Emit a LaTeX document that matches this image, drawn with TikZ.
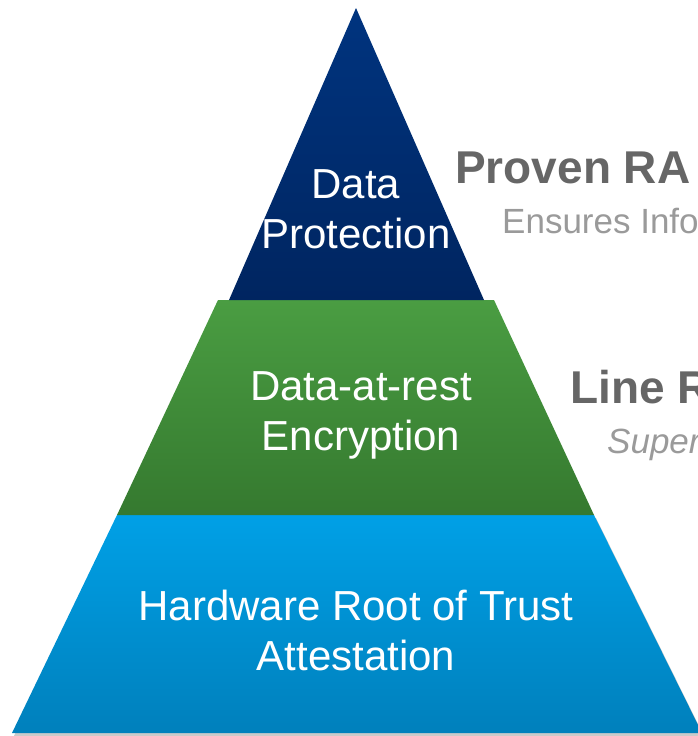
\documentclass[tikz,border=0pt]{standalone}
\usepackage{fontspec}
\setmainfont{Liberation Sans}
\definecolor{navyTop}{HTML}{00347F}
\definecolor{navyBot}{HTML}{002560}
\definecolor{greenTop}{HTML}{4A9D42}
\definecolor{greenBot}{HTML}{35792F}
\definecolor{blueTop}{HTML}{00A0E6}
\definecolor{blueBot}{HTML}{0080BC}
\definecolor{headGray}{HTML}{666666}
\definecolor{subGray}{HTML}{9A9A9A}

\begin{document}
\begin{tikzpicture}[x = 1pt, y = -1pt]
	\tikzstyle{tierText} = [text = white, align = center, anchor = base, inner sep = 0pt, font = \fontsize{42}{50}\selectfont]
	\tikzstyle{headText} = [text = headGray, anchor = base west, inner sep = 0pt, font = \fontsize{46}{50}\selectfont\bfseries]
	\tikzstyle{subText} = [text = subGray, anchor = base west, inner sep = 0pt, font = \fontsize{35}{40}\selectfont]
	\useasboundingbox (0, 0) rectangle (698, 736);
	\clip (0, 0) rectangle (698, 736);
	% pyramid tiers
	\fill[black!35, opacity = 0.6] (14, 736) -- (118, 518) -- (596, 518) -- (704, 736) -- cycle;
	\shade[top color = blueTop, bottom color = blueBot] (12, 733) -- (117, 515) -- (594, 515) -- (702, 733) -- cycle;
	\shade[top color = greenTop, bottom color = greenBot] (117, 515) -- (218, 300) -- (494, 300) -- (594, 515) -- cycle;
	\shade[top color = navyTop, bottom color = navyBot] (229, 300) -- (356, 8) -- (484, 300) -- cycle;
	% tier labels (base = last line)
	\node[tierText] (dataProt) at (356, 248) {Data\\Protection};
	\node[tierText] (atRest) at (361, 450) {Data-at-rest\\Encryption};
	\node[tierText] (rootTrust) at (356, 670) {Hardware Root of Trust\\Attestation};
	% side captions
	\node[headText] (provenHead) at (455, 183) {Proven RA};
	\node[subText] (provenSub) at (502, 233) {Ensures Info};
	\node[headText] (lineHead) at (570, 403) {Line R};
	\node[subText, font = \fontsize{35}{40}\selectfont\itshape] (lineSub) at (607, 453) {Super};
\end{tikzpicture}
\end{document}
